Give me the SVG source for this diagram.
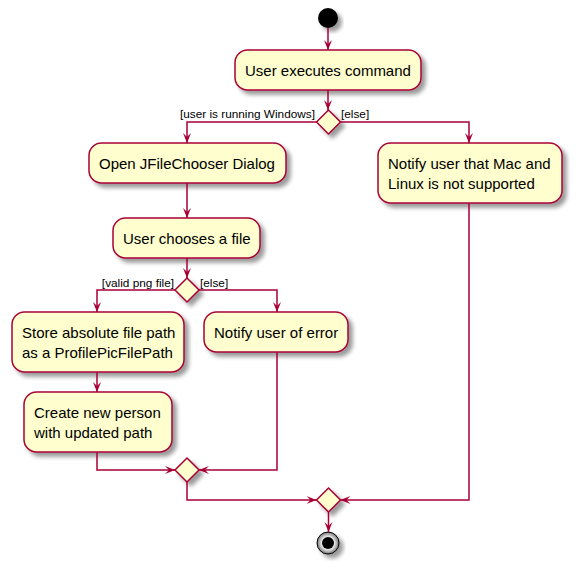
<svg xmlns="http://www.w3.org/2000/svg" width="577" height="570" viewBox="0 0 577 570">
<style>
.box{fill:#FEFECE;stroke:#A80036;stroke-width:1.5;filter:url(#sh)}
.dia{fill:#FEFECE;stroke:#A80036;stroke-width:1.5;filter:url(#sh)}
.t{font-family:"Liberation Sans",Arial,sans-serif;font-size:15px;fill:#000}
.l{font-family:"Liberation Sans",Arial,sans-serif;font-size:11.8px;fill:#000}
.c{fill:none;stroke:#A80036;stroke-width:1.5}
</style>
<defs>
<filter id="sh" x="-20%" y="-20%" width="150%" height="150%">
<feGaussianBlur in="SourceAlpha" stdDeviation="2"/>
<feOffset dx="4" dy="4" result="b"/>
<feComponentTransfer><feFuncA type="linear" slope="0.4"/></feComponentTransfer>
<feMerge><feMergeNode/><feMergeNode in="SourceGraphic"/></feMerge>
</filter>
<radialGradient id="eg" cx="0.5" cy="0.5" r="0.5">
<stop offset="0.5" stop-color="#fff"/>
<stop offset="1" stop-color="#777"/>
</radialGradient>
<marker id="ad" viewBox="0 0 10 10" refX="10" refY="5" markerWidth="10" markerHeight="10" markerUnits="userSpaceOnUse" orient="auto">
<path d="M0,1 L10,5 L0,9 L4,5 Z" fill="#A80036"/>
</marker>
</defs>
<g id="start"><circle cx="328" cy="18" r="10" fill="#000" filter="url(#sh)"/></g>
<g id="n1"><rect class="box" x="235" y="50" width="186" height="40" rx="12.5"/><text class="t" x="245" y="76">User executes command</text></g>
<g id="d1"><polygon class="dia" points="328.5,110 340.5,122 328.5,134 316.5,122"/><text class="l" x="315" y="118" text-anchor="end">[user is running Windows]</text><text class="l" x="341" y="118">[else]</text></g>
<g id="n2"><rect class="box" x="89" y="143" width="197" height="40" rx="12.5"/><text class="t" x="99" y="169">Open JFileChooser Dialog</text></g>
<g id="n3"><rect class="box" x="113" y="218" width="147" height="40" rx="12.5"/><text class="t" x="123" y="244">User chooses a file</text></g>
<g id="d2"><polygon class="dia" points="187,278 199,290 187,302 175,290"/><text class="l" x="174" y="287" text-anchor="end">[valid png file]</text><text class="l" x="200" y="287">[else]</text></g>
<g id="n4"><rect class="box" x="12" y="312" width="172" height="60" rx="12.5"/><text class="t" x="22" y="338">Store absolute file path</text><text class="t" x="22" y="358">as a ProfilePicFilePath</text></g>
<g id="n5"><rect class="box" x="204" y="312" width="144" height="40" rx="12.5"/><text class="t" x="214" y="338">Notify user of error</text></g>
<g id="n6"><rect class="box" x="24" y="392" width="148" height="60" rx="12.5"/><text class="t" x="34" y="418">Create new person</text><text class="t" x="34" y="438">with updated path</text></g>
<g id="n7"><rect class="box" x="378" y="143" width="184" height="60" rx="12.5"/><text class="t" x="388" y="169">Notify user that Mac and</text><text class="t" x="388" y="189">Linux is not supported</text></g>
<g id="d3"><polygon class="dia" points="187,458 199,470 187,482 175,470"/></g>
<g id="d4"><polygon class="dia" points="328.5,488 340.5,500 328.5,512 316.5,500"/></g>
<g id="end"><circle cx="328" cy="543" r="11" fill="url(#eg)" stroke="#000" stroke-width="1" filter="url(#sh)"/><circle cx="328" cy="543" r="6" fill="#000"/></g>
<g id="connectors">
<path class="c" d="M328,28 L328,50" marker-end="url(#ad)"/>
<path class="c" d="M328,90 L328,110" marker-end="url(#ad)"/>
<path class="c" d="M316.5,122 L187,122 L187,143" marker-end="url(#ad)"/>
<path class="c" d="M340.5,122 L469,122 L469,143" marker-end="url(#ad)"/>
<path class="c" d="M187,183 L187,218" marker-end="url(#ad)"/>
<path class="c" d="M187,258 L187,278" marker-end="url(#ad)"/>
<path class="c" d="M175,290 L97,290 L97,312" marker-end="url(#ad)"/>
<path class="c" d="M199,290 L277,290 L277,312" marker-end="url(#ad)"/>
<path class="c" d="M97,372 L97,392" marker-end="url(#ad)"/>
<path class="c" d="M97,452 L97,470 L175,470" marker-end="url(#ad)"/>
<path class="c" d="M277,352 L277,470 L199,470" marker-end="url(#ad)"/>
<path class="c" d="M187,482 L187,500 L316.5,500" marker-end="url(#ad)"/>
<path class="c" d="M469,203 L469,500 L340.5,500" marker-end="url(#ad)"/>
<path class="c" d="M328.5,512 L328.5,532" marker-end="url(#ad)"/>
</g>
</svg>
